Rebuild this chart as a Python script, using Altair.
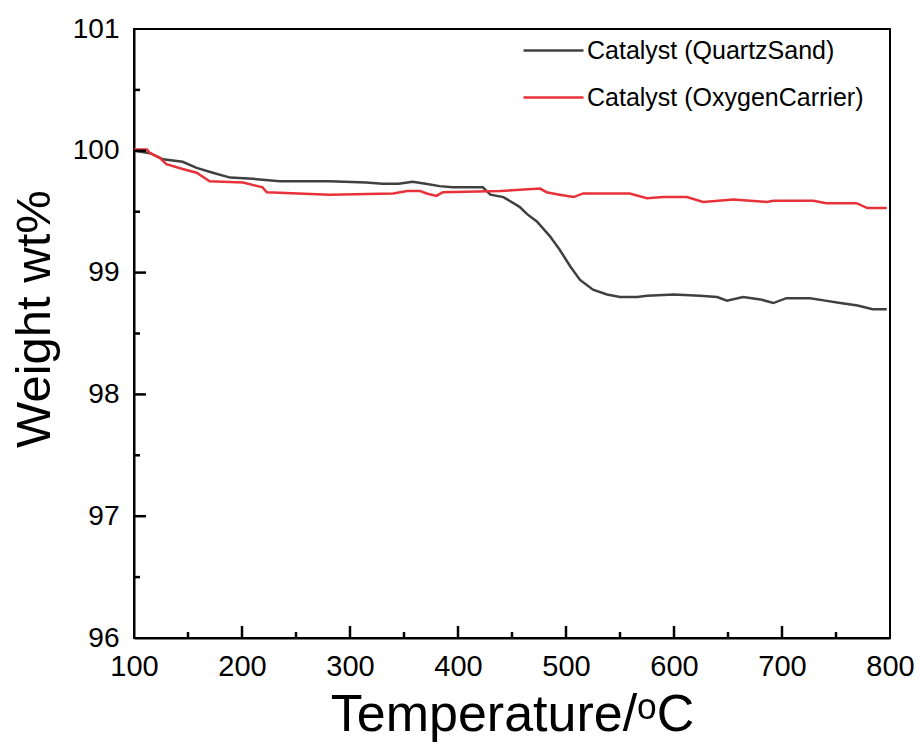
import altair as alt
import pandas as pd

# ---- data ----
series_names = ["Catalyst (QuartzSand)", "Catalyst (OxygenCarrier)"]
series_colors = ["#404040", "#e8323a"]

quartz_temp = [100, 115, 127, 145, 158, 173, 189, 210, 235, 281, 315, 330, 345, 358,
               370, 383, 395, 410, 423, 430, 442, 457, 464, 473, 485, 494, 504, 513,
               525, 538, 550, 566, 575, 600, 624, 640, 649, 664, 680, 692, 704, 726,
               740, 754, 770, 784, 797]
quartz_weight = [100.0, 99.98, 99.93, 99.91, 99.86, 99.82, 99.78, 99.77, 99.75, 99.75,
                 99.74, 99.73, 99.73, 99.745, 99.73, 99.71, 99.70, 99.70, 99.70, 99.64,
                 99.62, 99.54, 99.48, 99.42, 99.30, 99.19, 99.05, 98.94, 98.86, 98.82,
                 98.80, 98.80, 98.81, 98.82, 98.81, 98.80, 98.77, 98.80, 98.78, 98.75,
                 98.79, 98.79, 98.77, 98.75, 98.73, 98.70, 98.70]

oxy_temp = [100, 112, 115, 124, 130, 145, 158, 170, 201, 219, 223, 281, 340, 353, 365,
            371, 380, 386, 439, 476, 482, 494, 507, 516, 559, 575, 590, 612, 627, 655,
            686, 692, 729, 741, 760, 769, 779, 797]
oxy_weight = [100.01, 100.01, 99.98, 99.94, 99.89, 99.85, 99.82, 99.75, 99.74, 99.70,
              99.66, 99.64, 99.65, 99.67, 99.67, 99.65, 99.63, 99.66, 99.67, 99.69,
              99.66, 99.64, 99.62, 99.65, 99.65, 99.61, 99.62, 99.62, 99.58, 99.60,
              99.58, 99.59, 99.59, 99.57, 99.57, 99.57, 99.53, 99.53]

x_major = [100, 200, 300, 400, 500, 600, 700, 800]
x_minor = [150, 250, 350, 450, 550, 650, 750]
y_major = [96, 97, 98, 99, 100, 101]
y_minor = [96.5, 97.5, 98.5, 99.5, 100.5]

x_title = "Temperature/\u1d52C"
y_title = "Weight wt%"

# ---- layout ----
W, H = 756, 609
FONT = "Liberation Sans"
INK = "#000000"

df = pd.concat([
    pd.DataFrame({"T": quartz_temp, "w": quartz_weight, "s": series_names[0]}),
    pd.DataFrame({"T": oxy_temp, "w": oxy_weight, "s": series_names[1]}),
])

xs = alt.Scale(domain=[100, 800], nice=False, zero=False)
ys = alt.Scale(domain=[96, 101], nice=False, zero=False)

lines = alt.Chart(df).mark_line(strokeWidth=2.5).encode(
    x=alt.X("T:Q", scale=xs, title=x_title,
            axis=alt.Axis(values=x_major, tickSize=0, labelPadding=14, labelFontSize=29,
                          titleFontSize=52, titleFontWeight="normal", titleX=W / 2,
                          titleY=92, titleBaseline="alphabetic", titleAlign="center",
                          domainWidth=2, domainColor=INK, labelColor=INK,
                          grid=False, labelFlush=False)),
    y=alt.Y("w:Q", scale=ys, title=y_title,
            axis=alt.Axis(values=y_major, tickSize=0, labelPadding=15, labelFontSize=28,
                          titleFontSize=49, titleFontWeight="normal", titleX=-85,
                          titleY=H / 2 - 15, titleAngle=270, titleBaseline="alphabetic",
                          titleAlign="center", domainWidth=2, domainColor=INK,
                          labelColor=INK, grid=False, format="d")),
    color=alt.Color("s:N", scale=alt.Scale(domain=series_names, range=series_colors),
                    legend=alt.Legend(title=None, orient="none", legendX=388, legendY=-10,
                                      symbolType="stroke", symbolSize=3600,
                                      symbolStrokeWidth=2.5, labelFontSize=25,
                                      labelOffset=2, padding=0, labelLimit=0,
                                      labelColor=INK, labelFont=FONT)),
)

xmaj = alt.Chart(pd.DataFrame({"xt": x_major[1:-1]})).mark_rule(color=INK, strokeWidth=2.5).encode(
    x=alt.X("xt:Q", scale=xs), y=alt.value(H - 12), y2=alt.value(H))
xmin = alt.Chart(pd.DataFrame({"xm": x_minor})).mark_rule(color=INK, strokeWidth=2.5).encode(
    x=alt.X("xm:Q", scale=xs), y=alt.value(H - 6), y2=alt.value(H))
ymaj = alt.Chart(pd.DataFrame({"yt": y_major[1:-1]})).mark_rule(color=INK, strokeWidth=2.5).encode(
    y=alt.Y("yt:Q", scale=ys), x=alt.value(0), x2=alt.value(12))
ymin = alt.Chart(pd.DataFrame({"ym": y_minor})).mark_rule(color=INK, strokeWidth=2.5).encode(
    y=alt.Y("ym:Q", scale=ys), x=alt.value(0), x2=alt.value(6))

chart = alt.layer(lines, xmaj, xmin, ymaj, ymin).properties(
    width=W, height=H,
    autosize=alt.AutoSizeParams(type="none"),
    padding={"left": 134, "top": 29, "right": 32, "bottom": 111},
).configure(font=FONT).configure_view(
    stroke=INK, strokeWidth=2
).configure_axis(titleColor=INK, titleFont=FONT, labelFont=FONT)

chart.save("out.html", embed_options={"renderer": "svg", "actions": False})
